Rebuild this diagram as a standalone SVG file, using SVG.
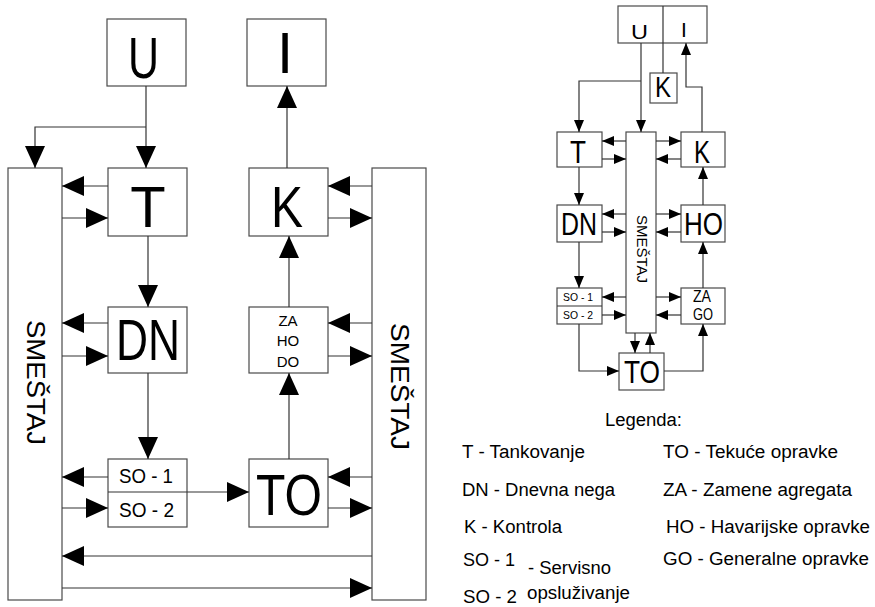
<svg xmlns="http://www.w3.org/2000/svg" width="875" height="607" viewBox="0 0 875 607">
<defs>
<style>
.box{fill:#fff;stroke:#4a4a4a;stroke-width:1.2}
.ln{fill:none;stroke:#333;stroke-width:1.2}
.big{marker-end:url(#ah)}
.sm{marker-end:url(#as)}
text{font-family:"Liberation Sans",Arial,sans-serif;fill:#000}
.leg{font-size:18px}
</style>
<marker id="ah" markerUnits="userSpaceOnUse" markerWidth="22" markerHeight="20" refX="22" refY="10" orient="auto"><path d="M0,0 L22,10 L0,20 Z" fill="#000"/></marker>
<marker id="as" markerUnits="userSpaceOnUse" markerWidth="12" markerHeight="10" refX="12" refY="5" orient="auto"><path d="M0,0 L12,5 L0,10 Z" fill="#000"/></marker>
</defs>
<rect width="875" height="607" fill="#fff"/>

<!-- LEFT DIAGRAM -->
<g id="L-U"><rect class="box" x="107" y="19" width="79" height="67"/><text x="128" y="78" font-size="58" textLength="31" lengthAdjust="spacingAndGlyphs">U</text></g>
<g id="L-I"><rect class="box" x="247" y="19" width="79" height="67"/><text x="285" y="73" font-size="58" text-anchor="middle">I</text></g>
<g id="L-T"><rect class="box" x="108" y="168" width="79" height="68"/><text x="148" y="227" font-size="58" text-anchor="middle">T</text></g>
<g id="L-K"><rect class="box" x="249" y="168" width="79" height="68"/><text x="271" y="227" font-size="58" textLength="32" lengthAdjust="spacingAndGlyphs">K</text></g>
<g id="L-DN"><rect class="box" x="108" y="307" width="79" height="66"/><text x="116" y="360" font-size="58" textLength="64" lengthAdjust="spacingAndGlyphs">DN</text></g>
<g id="L-ZAHODO"><rect class="box" x="249" y="307" width="79" height="66"/>
<text x="288" y="326" font-size="15" text-anchor="middle">ZA</text>
<text x="288" y="346" font-size="15" text-anchor="middle">HO</text>
<text x="288" y="367" font-size="15" text-anchor="middle">DO</text></g>
<g id="L-SO"><rect class="box" x="108" y="459" width="79" height="68"/><line x1="108" y1="492" x2="187" y2="492" stroke="#333" stroke-width="1.2"/>
<text x="119" y="483" font-size="20" textLength="54" lengthAdjust="spacingAndGlyphs">SO - 1</text>
<text x="119" y="517" font-size="20" textLength="55" lengthAdjust="spacingAndGlyphs">SO - 2</text></g>
<g id="L-TO"><rect class="box" x="249" y="459" width="79" height="68"/><text x="256" y="515" font-size="58" textLength="66" lengthAdjust="spacingAndGlyphs">TO</text></g>
<g id="L-SMESTAJ1"><rect class="box" x="8" y="168" width="54" height="432"/><text transform="translate(27,320) rotate(90)" font-size="25" textLength="125" lengthAdjust="spacingAndGlyphs">SMEŠTAJ</text></g>
<g id="L-SMESTAJ2"><rect class="box" x="372" y="168" width="54" height="432"/><text transform="translate(391,323) rotate(90)" font-size="25" textLength="127" lengthAdjust="spacingAndGlyphs">SMEŠTAJ</text></g>

<g id="L-connectors">
<path class="ln big" d="M146,86 V168"/>
<path class="ln big" d="M146,127 H35 V168"/>
<path class="ln big" d="M287,168 V86"/>
<path class="ln big" d="M108,186 H62"/>
<path class="ln big" d="M62,218 H108"/>
<path class="ln big" d="M372,186 H328"/>
<path class="ln big" d="M328,218 H372"/>
<path class="ln big" d="M148,236 V307"/>
<path class="ln big" d="M289,307 V236"/>
<path class="ln big" d="M108,323 H62"/>
<path class="ln big" d="M62,356 H108"/>
<path class="ln big" d="M372,323 H328"/>
<path class="ln big" d="M328,356 H372"/>
<path class="ln big" d="M148,373 V459"/>
<path class="ln big" d="M289,459 V373"/>
<path class="ln big" d="M108,477 H62"/>
<path class="ln big" d="M62,508 H108"/>
<path class="ln big" d="M187,492 H249"/>
<path class="ln big" d="M372,477 H328"/>
<path class="ln big" d="M328,508 H372"/>
<path class="ln big" d="M372,556 H62"/>
<path class="ln big" d="M62,588 H372"/>
</g>

<!-- RIGHT DIAGRAM -->
<g id="R-UI"><rect class="box" x="618" y="6" width="89" height="37"/><line x1="663" y1="6" x2="663" y2="43" stroke="#333" stroke-width="1.2"/>
<text x="631" y="39" font-size="21" textLength="17" lengthAdjust="spacingAndGlyphs">U</text>
<text x="684" y="37" font-size="21" text-anchor="middle">I</text></g>
<g id="R-Ksmall"><rect class="box" x="650" y="73" width="27" height="30"/><text x="655" y="97" font-size="30" textLength="16" lengthAdjust="spacingAndGlyphs">K</text></g>
<g id="R-T"><rect class="box" x="557" y="132" width="45" height="35"/><text x="570" y="163" font-size="32" textLength="16" lengthAdjust="spacingAndGlyphs">T</text></g>
<g id="R-K"><rect class="box" x="681" y="132" width="44" height="35"/><text x="694" y="163" font-size="32" textLength="16" lengthAdjust="spacingAndGlyphs">K</text></g>
<g id="R-DN"><rect class="box" x="557" y="205" width="45" height="37"/><text x="561" y="235" font-size="31" textLength="36" lengthAdjust="spacingAndGlyphs">DN</text></g>
<g id="R-HO"><rect class="box" x="681" y="205" width="44" height="37"/><text x="684" y="235" font-size="31" textLength="39" lengthAdjust="spacingAndGlyphs">HO</text></g>
<g id="R-SO"><rect class="box" x="557" y="288" width="45" height="36"/><line x1="557" y1="306" x2="602" y2="306" stroke="#333" stroke-width="1.2"/>
<text x="563" y="301" font-size="11" textLength="30" lengthAdjust="spacingAndGlyphs">SO - 1</text>
<text x="563" y="319" font-size="11" textLength="30" lengthAdjust="spacingAndGlyphs">SO - 2</text></g>
<g id="R-ZAGO"><rect class="box" x="681" y="288" width="44" height="36"/>
<text x="693" y="302" font-size="16" textLength="18" lengthAdjust="spacingAndGlyphs">ZA</text>
<text x="693" y="320" font-size="16" textLength="20" lengthAdjust="spacingAndGlyphs">GO</text></g>
<g id="R-SMESTAJ"><rect class="box" x="626" y="132" width="30" height="201"/><text transform="translate(637,215) rotate(90)" font-size="15" textLength="68" lengthAdjust="spacingAndGlyphs">SMEŠTAJ</text></g>
<g id="R-TO"><rect class="box" x="619" y="353" width="45" height="37"/><text x="624" y="383" font-size="32" textLength="36" lengthAdjust="spacingAndGlyphs">TO</text></g>

<g id="R-connectors">
<path class="ln sm" d="M641,43 V132"/>
<path class="ln sm" d="M641,81 H579 V132"/>
<path class="ln" d="M663,43 V73"/>
<path class="ln sm" d="M702,132 V87 H686 V43"/>
<path class="ln sm" d="M626,141 H602"/>
<path class="ln sm" d="M602,159 H626"/>
<path class="ln sm" d="M656,141 H681"/>
<path class="ln sm" d="M681,159 H656"/>
<path class="ln sm" d="M579,167 V205"/>
<path class="ln sm" d="M703,205 V167"/>
<path class="ln sm" d="M626,214 H602"/>
<path class="ln sm" d="M602,232 H626"/>
<path class="ln sm" d="M656,214 H681"/>
<path class="ln sm" d="M681,232 H656"/>
<path class="ln sm" d="M579,242 V288"/>
<path class="ln sm" d="M703,288 V242"/>
<path class="ln sm" d="M626,297 H602"/>
<path class="ln sm" d="M602,315 H626"/>
<path class="ln sm" d="M656,297 H681"/>
<path class="ln sm" d="M681,315 H656"/>
<path class="ln sm" d="M635,333 V353"/>
<path class="ln sm" d="M650,353 V333"/>
<path class="ln sm" d="M579,324 V371 H619"/>
<path class="ln sm" d="M664,371 H703 V324"/>
</g>

<!-- LEGEND -->
<g id="legend" class="leg">
<text x="605" y="426" textLength="77" lengthAdjust="spacingAndGlyphs">Legenda:</text>
<text x="462" y="458" textLength="123" lengthAdjust="spacingAndGlyphs">T - Tankovanje</text>
<text x="462" y="496" textLength="153" lengthAdjust="spacingAndGlyphs">DN - Dnevna nega</text>
<text x="464" y="533" textLength="98" lengthAdjust="spacingAndGlyphs">K - Kontrola</text>
<text x="463" y="566" textLength="52" lengthAdjust="spacingAndGlyphs">SO - 1</text>
<text x="528" y="574" textLength="83" lengthAdjust="spacingAndGlyphs">- Servisno</text>
<text x="463" y="603" textLength="54" lengthAdjust="spacingAndGlyphs">SO - 2</text>
<text x="527" y="599" textLength="103" lengthAdjust="spacingAndGlyphs">opsluživanje</text>
<text x="663" y="458" textLength="175" lengthAdjust="spacingAndGlyphs">TO - Tekuće opravke</text>
<text x="663" y="496" textLength="189" lengthAdjust="spacingAndGlyphs">ZA - Zamene agregata</text>
<text x="666" y="533" textLength="204" lengthAdjust="spacingAndGlyphs">HO - Havarijske opravke</text>
<text x="663" y="565" textLength="206" lengthAdjust="spacingAndGlyphs">GO - Generalne opravke</text>
</g>
</svg>
